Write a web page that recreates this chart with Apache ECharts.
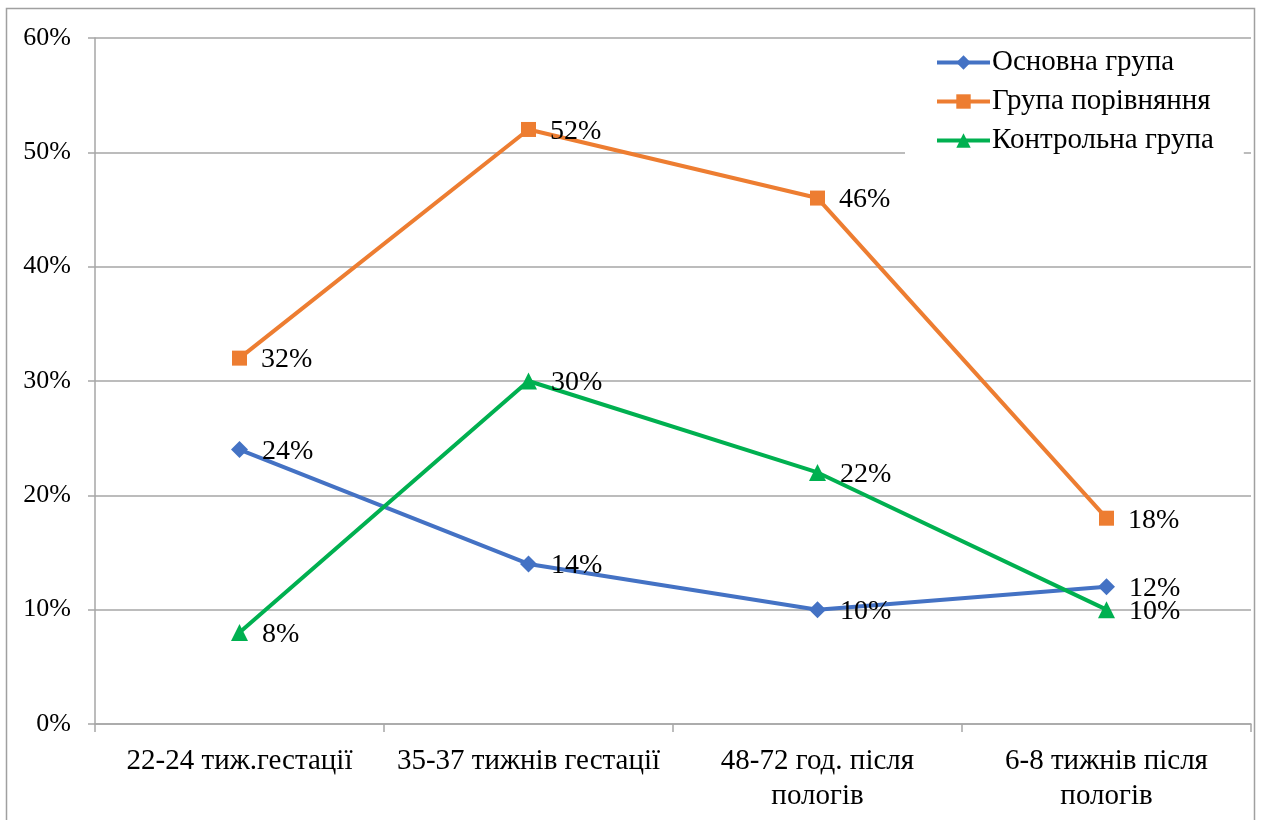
<!DOCTYPE html>
<html>
<head>
<meta charset="utf-8">
<style>
  html, body { margin: 0; padding: 0; background: #fff; }
  #chart { width: 1262px; height: 820px; }
</style>
<script src="https://cdn.jsdelivr.net/npm/echarts@6/dist/echarts.min.js"></script>
</head>
<body>
<div id="chart"></div>
<script>
// Time points of observation
const categories = [
  '22-24 тиж.гестації',
  '35-37 тижнів гестації',
  '48-72 год. після\nпологів',
  '6-8 тижнів після\nпологів'
];
// Share of patients per group, %
const mainGroup = [24, 14, 10, 12];
const comparisonGroup = [32, 52, 46, 18];
const controlGroup = [8, 30, 22, 10];
const seriesNames = ['Основна група', 'Група порівняння', 'Контрольна група'];
const yTicks = [0, 10, 20, 30, 40, 50, 60];

const FONT = '"Liberation Serif", "Times New Roman", serif';
const chart = echarts.init(document.getElementById('chart'), null, { renderer: 'canvas' });

function lineSeries(name, data, color, symbol, size) {
  return {
    name: name,
    type: 'line',
    data: data,
    symbol: symbol,
    symbolSize: size,
    lineStyle: { color: color, width: 4 },
    itemStyle: { color: color },
    label: {
      show: true,
      position: 'right',
      distance: 14,
      offset: [0, 2],
      formatter: p => p.value + '%',
      fontFamily: FONT,
      fontSize: 28,
      color: '#000'
    },
    emphasis: { disabled: true },
    animation: false,
    z: 3
  };
}

chart.setOption({
  animation: false,
  backgroundColor: '#fff',
  textStyle: { fontFamily: FONT },
  graphic: [{
    type: 'rect',
    shape: { x: 6.5, y: 8.5, width: 1248, height: 830 },
    style: { fill: 'none', stroke: '#a0a0a0', lineWidth: 1.5 },
    silent: true,
    z: 0
  }],
  grid: { left: 95, right: 11, top: 38, bottom: 96, containLabel: false },
  legend: {
    orient: 'vertical',
    left: 905,
    top: 40,
    padding: [8, 30, 6, 30],
    backgroundColor: '#fff',
    itemWidth: 53,
    itemHeight: 18,
    itemGap: 10,
    lineStyle: { width: 4 },
    textStyle: { fontFamily: FONT, fontSize: 29, color: '#000', padding: [0, 0, 0, -3] },
    data: seriesNames,
    z: 5
  },
  xAxis: {
    type: 'category',
    data: categories,
    boundaryGap: true,
    axisLine: { lineStyle: { color: '#a6a6a6', width: 1.5 } },
    axisTick: { show: true, length: 8, lineStyle: { color: '#a6a6a6', width: 1.5 } },
    axisLabel: {
      fontFamily: FONT, fontSize: 29, color: '#000', margin: 20,
      lineHeight: 35, interval: 0, align: 'center'
    },
    splitLine: { show: false }
  },
  yAxis: {
    type: 'value',
    min: yTicks[0],
    max: yTicks[yTicks.length - 1],
    interval: 10,
    axisLine: { show: true, lineStyle: { color: '#a6a6a6', width: 1.5 } },
    axisTick: { show: true, length: 7, lineStyle: { color: '#a6a6a6', width: 1.5 } },
    axisLabel: {
      fontFamily: FONT, fontSize: 26, color: '#000', margin: 24,
      formatter: v => v + '%'
    },
    splitLine: { show: true, lineStyle: { color: '#a6a6a6', width: 1.5 } }
  },
  series: [
    lineSeries(seriesNames[0], mainGroup, '#4472C4', 'diamond', 17),
    lineSeries(seriesNames[1], comparisonGroup, '#ED7D31', 'rect', 15),
    lineSeries(seriesNames[2], controlGroup, '#00B050', 'triangle', 17)
  ]
});
</script>
</body>
</html>
